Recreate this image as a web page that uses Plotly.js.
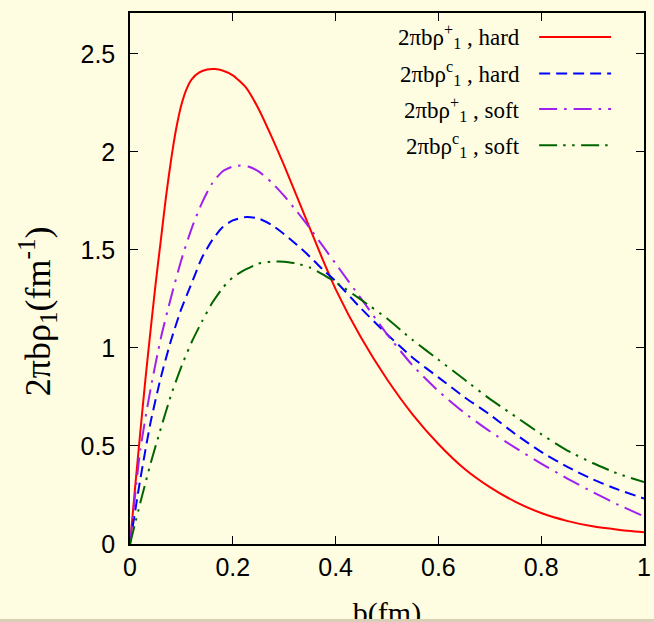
<!DOCTYPE html>
<html>
<head>
<meta charset="utf-8">
<script src="https://cdn.plot.ly/plotly-3.0.1.min.js"></script>
<style>
  html, body { margin: 0; padding: 0; background: #d9cfb6; width: 654px; height: 622px; overflow: hidden; }
  #chart { width: 654px; height: 619px; overflow: hidden; }
</style>
</head>
<body>
<div id="chart"></div>
<script>
// ---- data ----
const hardPlusX = [0, 0.01, 0.02, 0.03, 0.04, 0.05, 0.06, 0.07, 0.08, 0.09, 0.1, 0.11, 0.12, 0.135, 0.15, 0.165, 0.18, 0.2, 0.225, 0.25, 0.275, 0.3, 0.325, 0.35, 0.375, 0.4, 0.45, 0.5, 0.55, 0.6, 0.65, 0.7, 0.75, 0.8, 0.85, 0.9, 0.95, 1.0];
const hardPlusY = [0, 0.29, 0.57, 0.84, 1.09, 1.33, 1.55, 1.77, 1.96, 2.12, 2.24, 2.32, 2.37, 2.405, 2.42, 2.422, 2.415, 2.39, 2.33, 2.22, 2.08, 1.93, 1.77, 1.61, 1.45, 1.30, 1.05, 0.84, 0.66, 0.51, 0.385, 0.29, 0.215, 0.158, 0.118, 0.09, 0.073, 0.06];

const hardCX = [0, 0.02, 0.04, 0.06, 0.08, 0.1, 0.12, 0.14, 0.16, 0.18, 0.2, 0.227, 0.25, 0.275, 0.3, 0.325, 0.35, 0.375, 0.4, 0.45, 0.5, 0.55, 0.6, 0.65, 0.7, 0.75, 0.8, 0.85, 0.9, 0.95, 1.0];
const hardCY = [0, 0.33, 0.62, 0.85, 1.04, 1.20, 1.33, 1.46, 1.55, 1.615, 1.65, 1.668, 1.66, 1.628, 1.58, 1.525, 1.465, 1.40, 1.34, 1.20, 1.07, 0.95, 0.85, 0.75, 0.66, 0.56, 0.47, 0.395, 0.33, 0.277, 0.232];

const softPlusX = [0, 0.02, 0.04, 0.06, 0.08, 0.1, 0.12, 0.14, 0.16, 0.18, 0.2, 0.215, 0.23, 0.25, 0.275, 0.3, 0.325, 0.35, 0.375, 0.4, 0.45, 0.5, 0.55, 0.6, 0.65, 0.7, 0.75, 0.8, 0.85, 0.9, 0.95, 1.0];
const softPlusY = [0, 0.48, 0.79, 1.05, 1.26, 1.45, 1.61, 1.74, 1.84, 1.90, 1.925, 1.93, 1.925, 1.90, 1.845, 1.775, 1.695, 1.61, 1.52, 1.43, 1.25, 1.07, 0.91, 0.78, 0.67, 0.575, 0.49, 0.41, 0.335, 0.265, 0.2, 0.141];

const softCX = [0, 0.02, 0.04, 0.06, 0.08, 0.1, 0.12, 0.14, 0.16, 0.18, 0.2, 0.225, 0.25, 0.275, 0.3, 0.325, 0.35, 0.375, 0.4, 0.45, 0.5, 0.55, 0.6, 0.65, 0.7, 0.75, 0.8, 0.85, 0.9, 0.95, 1.0];
const softCY = [0, 0.21, 0.41, 0.59, 0.76, 0.905, 1.03, 1.135, 1.23, 1.305, 1.36, 1.40, 1.43, 1.44, 1.44, 1.43, 1.41, 1.375, 1.335, 1.245, 1.15, 1.04, 0.94, 0.84, 0.74, 0.65, 0.56, 0.478, 0.413, 0.358, 0.316];

const seriesNames = ['2πbρ<sup>+</sup><sub>1</sub> , hard', '2πbρ<sup>c</sup><sub>1</sub> , hard', '2πbρ<sup>+</sup><sub>1</sub> , soft', '2πbρ<sup>c</sup><sub>1</sub> , soft'];
const xTicks = [0, 0.2, 0.4, 0.6, 0.8, 1];
const xTickText = ['0', '0.2', '0.4', '0.6', '0.8', '1'];
const yTicks = [0, 0.5, 1, 1.5, 2, 2.5];
const yTickText = ['0', '0.5', '1', '1.5', '2', '2.5'];
const xTitle = 'b(fm)';
const yTitle = '2πbρ<sub>1</sub>(fm<sup>-1</sup>)';

// ---- styles ----
const colors = ['#ff0000', '#0000ff', '#a020f0', '#006400'];
const dashes = ['solid', '11px,6px', '18px,7px,2.5px,7px', '18px,6px,2.5px,6.5px,2.5px,6.5px'];
const xs = [hardPlusX, hardCX, softPlusX, softCX];
const ys = [hardPlusY, hardCY, softPlusY, softCY];

const traces = xs.map((x, i) => ({
  x: x, y: ys[i], type: 'scatter', mode: 'lines', name: seriesNames[i],
  line: { color: colors[i], width: 2, dash: dashes[i], shape: 'spline', smoothing: 0.6 },
  showlegend: false, hoverinfo: 'skip'
}));

const bg = '#fffde1';
const legendRowsY = [0.955, 0.886, 0.819, 0.751];
const shapes = legendRowsY.map((yy, i) => ({
  type: 'line', xref: 'paper', yref: 'paper', x0: 0.796, x1: 0.936, y0: yy, y1: yy,
  line: { color: colors[i], width: 2, dash: dashes[i] }
}));
const annotations = legendRowsY.map((yy, i) => ({
  xref: 'paper', yref: 'paper', x: 0.762, y: yy, xanchor: 'right', yanchor: 'middle',
  text: seriesNames[i], showarrow: false,
  font: { family: 'Liberation Serif, serif', size: 23, color: '#000' }
}));
annotations.push({
  xref: 'paper', yref: 'y', x: -0.18, y: 1.19, xanchor: 'center', yanchor: 'middle',
  textangle: -90, showarrow: false,
  text: yTitle,
  font: { family: 'Liberation Serif, serif', size: 36, color: '#000' }
});

const axisCommon = {
  showgrid: false, zeroline: false, showline: true, linecolor: '#000', linewidth: 1.5,
  mirror: 'ticks', ticks: 'inside', ticklen: 8, tickwidth: 1, tickcolor: '#000',
  tickfont: { family: 'Liberation Sans, Arial, sans-serif', size: 25, color: '#000' }
};

const layout = {
  width: 654, height: 644,
  margin: { l: 130, r: 10, t: 13, b: 100 },
  paper_bgcolor: bg, plot_bgcolor: bg,
  xaxis: Object.assign({}, axisCommon, {
    range: [0, 1], tickmode: 'array', tickvals: xTicks, ticktext: xTickText,
    title: { text: xTitle, font: { family: 'Liberation Serif, serif', size: 30, color: '#000' }, standoff: 22 }
  }),
  yaxis: Object.assign({}, axisCommon, {
    range: [0, 2.708], tickmode: 'array', tickvals: yTicks, ticktext: yTickText,
    ticklabelstandoff: 8
  }),
  shapes: shapes,
  annotations: annotations,
  showlegend: false
};

Plotly.newPlot('chart', traces, layout, { displayModeBar: false });
</script>
</body>
</html>
